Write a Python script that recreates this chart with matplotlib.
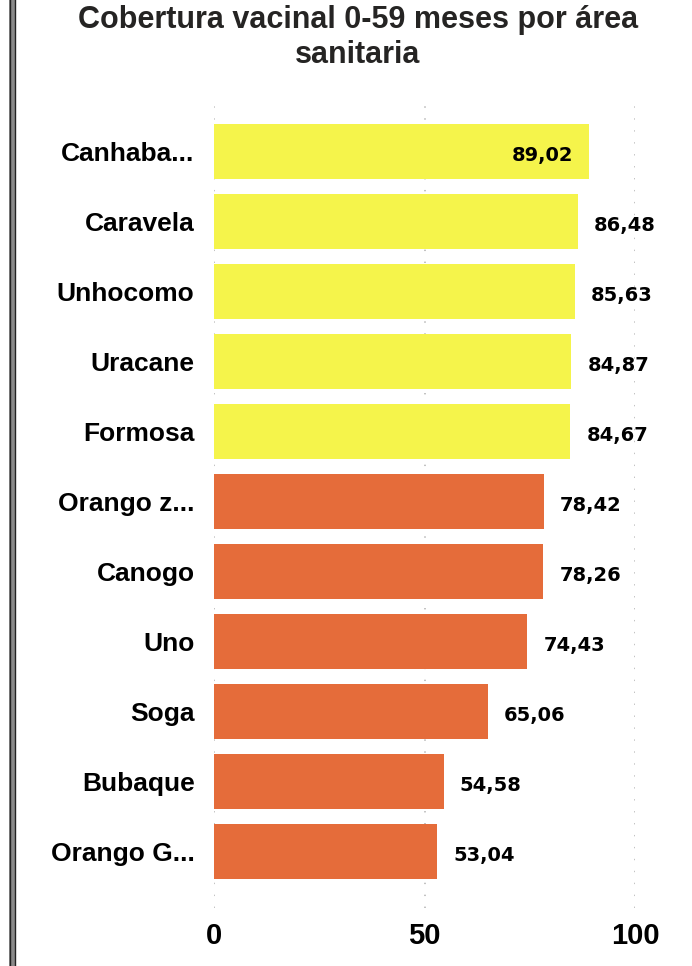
import matplotlib
matplotlib.use('Agg')
import matplotlib.pyplot as plt
from matplotlib.lines import Line2D
from matplotlib.patches import Rectangle


# Chart data
areas = ['Canhaba...', 'Caravela', 'Unhocomo', 'Uracane', 'Formosa',
         'Orango z...', 'Canogo', 'Uno', 'Soga', 'Bubaque', 'Orango G...']
coverage = [89.02, 86.48, 85.63, 84.87, 84.67,
            78.42, 78.26, 74.43, 65.06, 54.58, 53.04]
x_ticks = [0, 50, 100]
threshold = 80
title_lines = ['Cobertura vacinal 0-59 meses por área', 'sanitaria']

YELLOW = '#F5F44B'
ORANGE = '#E56C3A'

plt.rcParams['lines.scale_dashes'] = False

fig = plt.figure(figsize=(6.92, 9.66), dpi=100)
ax = fig.add_axes([214 / 692, 1 - 908 / 966, 421 / 692, 806 / 966])

positions = list(range(len(areas)))
colors = [YELLOW if v >= threshold else ORANGE for v in coverage]
ax.barh(positions, coverage, height=0.786, color=colors, zorder=2)

ax.set_xlim(0, 100)
ax.set_ylim(10.807, -0.707)
ax.set_xticks(x_ticks)
ax.set_xticklabels([str(t) for t in x_ticks], fontfamily='Liberation Sans',
                   fontweight='bold', fontsize=21)
ax.set_yticks(positions)
ax.set_yticklabels(areas, fontfamily='Liberation Sans', fontweight='bold',
                   fontsize=19)
ax.tick_params(axis='both', length=0)
ax.tick_params(axis='y', pad=14)
ax.tick_params(axis='x', pad=10)

for side in ax.spines.values():
    side.set_visible(False)

ax.grid(axis='x', color='#BDBDBD', linewidth=1.3, linestyle=(0, (1.0, 7.6)),
        zorder=0)
ax.grid(axis='y', visible=False)

# value labels, the biggest one sits inside its bar
for i, v in enumerate(coverage):
    txt = f'{v:.2f}'.replace('.', ',')
    if v == max(coverage):
        ax.annotate(txt, (v, i), xytext=(-11.5, -3), textcoords='offset points',
                    ha='right', va='center', fontfamily='DejaVu Sans',
                    fontweight='bold', fontsize=14, color='black', zorder=3)
    else:
        ax.annotate(txt, (v, i), xytext=(11.5, -3), textcoords='offset points',
                    ha='left', va='center', fontfamily='DejaVu Sans',
                    fontweight='bold', fontsize=14, color='black', zorder=3)

for line, base_px in zip(title_lines, [28, 63]):
    fig.text(358 / 692, 1 - base_px / 966, line, ha='center', va='baseline',
             fontfamily='Liberation Sans', fontweight='bold', fontsize=22,
             color='#252423')

# double border on the left edge
fig.patches.append(Rectangle((9 / 692, 0), 6 / 692, 1, transform=fig.transFigure,
                             facecolor='#8A8A8A', edgecolor='none'))
for xp in (9.5, 14.5):
    fig.lines.append(Line2D([xp / 692, xp / 692], [0, 1], transform=fig.transFigure,
                            color='#222222', linewidth=1.0))

fig.savefig('out.png', dpi=100)
